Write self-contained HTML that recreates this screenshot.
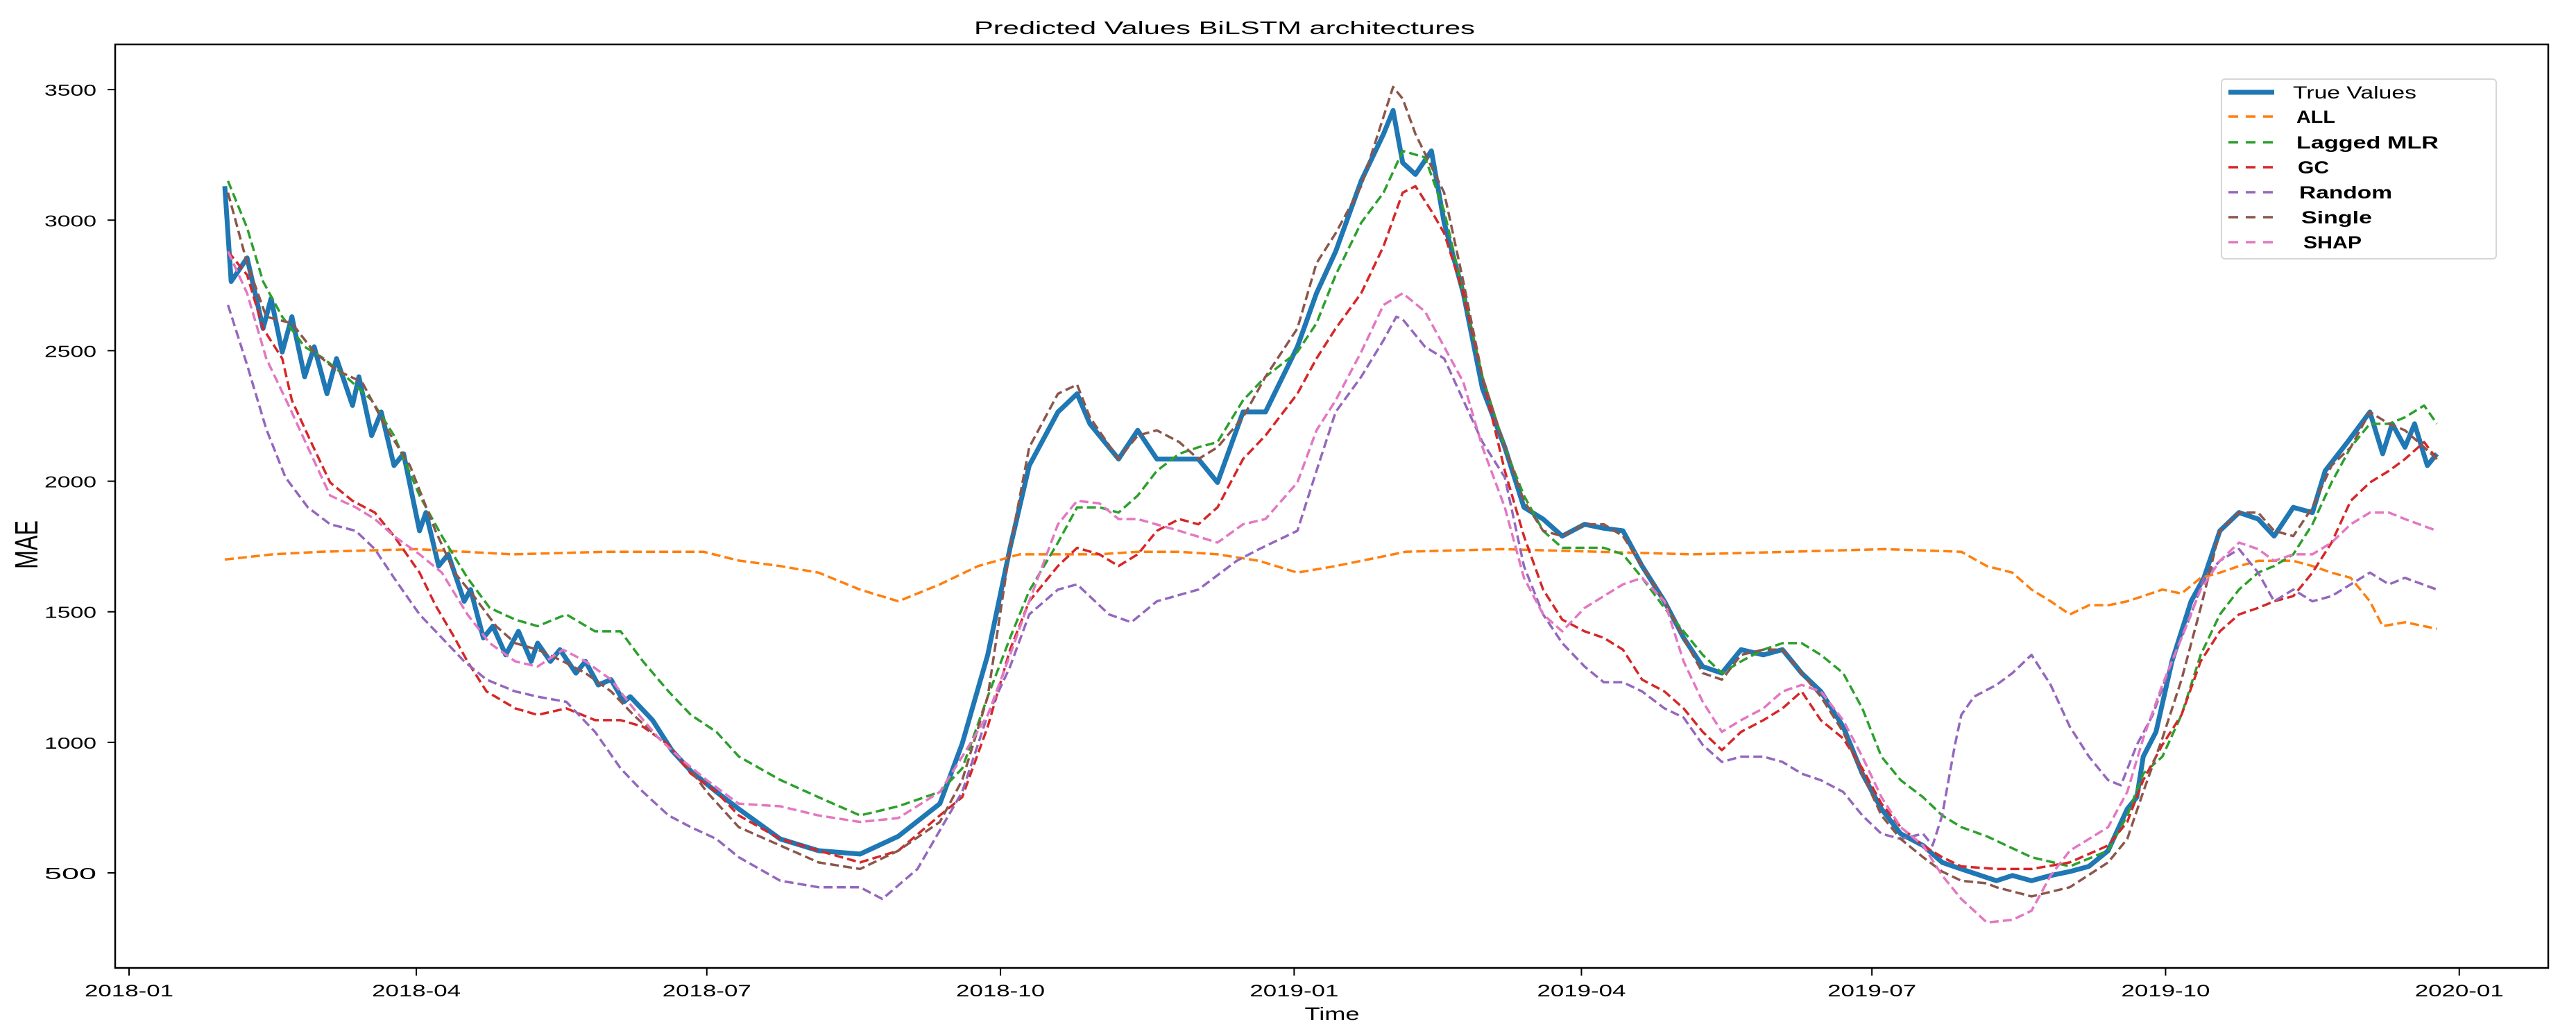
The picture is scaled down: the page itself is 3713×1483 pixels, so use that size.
<!DOCTYPE html>
<html><head><meta charset="utf-8"><style>
html,body{margin:0;padding:0;background:#fff;}
svg{display:block;font-family:"Liberation Sans",sans-serif;}
</style></head><body>
<svg id="chart" width="3713" height="1483" viewBox="0 0 3713 1483" xmlns="http://www.w3.org/2000/svg">
<rect width="3713" height="1483" fill="#fff"/>
<text x="1765" y="49" font-size="26" text-anchor="middle" textLength="722" lengthAdjust="spacingAndGlyphs" fill="#000">Predicted Values BiLSTM architectures</text>
<g id="plot"></g>
<g id="axes"></g>
<text transform="translate(54,785) rotate(-90)" font-size="46" text-anchor="middle" textLength="70" lengthAdjust="spacingAndGlyphs" fill="#000">MAE</text>
<text x="1920" y="1470" font-size="26" text-anchor="middle" textLength="79" lengthAdjust="spacingAndGlyphs" fill="#000">Time</text>
<g id="legend"></g>
</svg>
<script>
// days since 2018-01-01 and values
const trueDays=[30,32,37,42,44.5,48,51,55,58,62,65,70,72,76,79,83,86,91,93,97,100,105,107,111,114,118,122,126,128,132,135,140,143,147,151,155,157,164,170,176,184,191,204,216,229,241,254,261,269,276,282,291,297,301,310,316,322,329,335,341,349,356,366,372,378,386,393,396,399,403,408,412,418,424,431,437,443,449,456,462,468,474,481,487,493,499,505,512,518,524,530,537,543,549,555,562,568,574,585,590,596,602,608,614,620,626,629,631,635,640,646,650,655,661,667,672,678,684,688,695,702,706,709,713,716,720,723];
const trueVals=[3130,2765,2855,2585,2700,2495,2630,2400,2515,2335,2470,2290,2400,2175,2265,2060,2105,1810,1880,1675,1720,1540,1585,1400,1445,1335,1425,1310,1380,1310,1355,1265,1310,1220,1240,1155,1175,1085,970,890,810,745,630,585,572,640,765,995,1335,1745,2060,2265,2335,2220,2085,2195,2085,2085,2085,1995,2265,2265,2515,2720,2880,3150,3330,3420,3220,3175,3265,2990,2720,2355,2130,1900,1855,1790,1835,1820,1810,1675,1540,1400,1290,1265,1355,1335,1355,1265,1195,1060,880,745,650,605,540,515,470,490,470,490,505,525,585,745,790,945,1040,1310,1540,1630,1810,1880,1855,1790,1900,1880,2040,2150,2265,2105,2220,2130,2220,2060,2105];
const allDays=[30,45,60,90,120,150,180,191,204,216,229,241,254,266,279,291,304,316,329,341,354,366,378,386,400,430,460,490,520,550,574,582,590,596,602,608,614,620,626,631,637,643,649,655,661,667,678,684,690,696,702,706,713,723];
const allVals=[1700,1720,1730,1740,1720,1730,1730,1696,1675,1650,1585,1540,1605,1675,1720,1720,1720,1730,1730,1720,1695,1650,1675,1695,1730,1740,1730,1720,1730,1740,1730,1675,1650,1585,1540,1490,1525,1525,1540,1560,1585,1570,1630,1650,1675,1695,1695,1675,1650,1630,1540,1445,1460,1435];
const mlrDays=[31,37,42,48,55,61,68,76,83,91,98,106,113,121,128,137,146,154,161,169,176,184,191,204,216,229,241,254,261,269,276,282,291,297,304,310,316,322,329,335,341,349,356,366,372,378,386,393,399,406,412,418,424,431,437,443,449,456,462,468,474,481,487,493,499,505,512,518,524,530,537,543,549,555,562,568,574,582,596,608,620,626,631,637,643,649,655,661,667,672,678,684,690,696,702,708,713,719,723];
const mlrVals=[3150,2970,2765,2630,2515,2470,2400,2310,2175,1945,1790,1630,1515,1470,1445,1490,1425,1425,1310,1195,1105,1040,946,856,790,720,755,810,900,1175,1400,1580,1765,1900,1900,1880,1945,2040,2105,2130,2150,2310,2400,2495,2605,2790,2990,3105,3265,3240,3035,2720,2400,2130,1945,1810,1745,1745,1745,1720,1630,1515,1425,1335,1265,1310,1355,1380,1380,1335,1265,1130,945,855,790,720,675,640,560,525,585,720,880,945,1105,1335,1490,1585,1650,1675,1720,1835,1995,2130,2220,2220,2245,2290,2220];
const gcDays=[31,37,42,48,51,57,63,70,77,83,91,96,102,106,112,121,128,137,146,154,161,169,176,184,191,204,216,229,241,254,261,269,276,282,291,297,304,310,316,322,329,335,341,349,356,366,372,378,386,393,399,403,408,412,418,424,431,437,443,449,456,462,468,474,481,487,493,499,505,512,518,524,530,537,543,549,555,562,568,574,585,596,608,620,626,631,637,643,649,655,661,667,672,678,684,690,696,702,708,713,719,723];
const gcVals=[2880,2790,2585,2470,2310,2150,1995,1925,1880,1790,1650,1525,1400,1310,1195,1130,1105,1130,1085,1085,1060,990,880,810,720,630,585,540,585,720,790,1060,1355,1540,1675,1745,1720,1675,1720,1810,1855,1835,1900,2085,2175,2335,2470,2585,2720,2900,3105,3130,3035,2950,2720,2400,2040,1790,1585,1470,1425,1400,1355,1240,1195,1130,1040,970,1040,1085,1130,1195,1085,1015,900,765,675,605,560,525,515,515,540,605,695,855,990,1105,1310,1425,1490,1515,1540,1560,1650,1765,1925,1995,2040,2085,2150,2085];
const randDays=[31,37,43,49,56,63,71,77,83,91,98,105,112,121,128,137,146,154,161,169,176,184,191,204,216,229,236,247,261,269,276,282,291,297,307,314,322,335,347,354,366,372,378,386,393,397,399,406,412,418,424,431,437,443,449,456,462,468,474,481,487,493,499,505,512,518,524,530,537,543,549,555,562,565,568,572,574,578,585,590,596,602,608,614,620,624,629,634,640,646,650,655,661,667,672,678,684,690,696,702,708,713,723];
const randVals=[2675,2445,2200,2015,1900,1835,1810,1740,1630,1490,1400,1310,1240,1195,1175,1155,1040,900,810,720,675,630,560,470,445,445,400,515,810,1105,1290,1490,1585,1605,1490,1460,1540,1585,1695,1740,1810,2040,2265,2400,2540,2630,2620,2515,2470,2310,2150,2015,1675,1490,1380,1290,1230,1230,1195,1130,1095,990,925,945,945,925,880,855,810,720,650,630,650,605,720,990,1105,1175,1220,1265,1335,1220,1060,945,855,835,990,1105,1310,1490,1630,1695,1740,1650,1540,1585,1540,1560,1605,1650,1605,1630,1585];
const singleDays=[31,37,43,51,58,65,73,81,88,96,102,108,115,121,128,136,143,151,158,166,174,181,191,204,216,229,241,254,261,269,276,282,291,297,301,310,316,322,329,335,341,349,356,366,372,378,386,396,399,403,412,418,424,431,437,443,449,456,462,468,474,481,487,493,499,505,512,518,524,530,537,543,549,555,562,568,574,582,585,596,608,620,626,631,637,643,649,655,661,667,672,678,684,690,696,702,708,713,719,723];
const singleVals=[3105,2835,2630,2605,2495,2425,2380,2195,2060,1810,1650,1560,1445,1380,1355,1310,1265,1195,1105,1015,925,810,675,605,540,515,585,695,855,1175,1745,2130,2335,2370,2245,2085,2175,2195,2150,2085,2130,2245,2400,2585,2835,2950,3130,3510,3465,3330,3105,2765,2400,2130,1925,1810,1790,1835,1835,1790,1675,1540,1400,1265,1240,1335,1355,1355,1265,1175,1040,880,720,630,560,505,470,460,445,410,445,540,630,810,1015,1240,1515,1810,1880,1880,1810,1790,1900,2060,2130,2265,2220,2195,2130,2085];
const shapDays=[31,37,43,50,56,63,71,77,83,91,98,106,113,121,128,136,143,151,158,166,174,181,191,204,216,229,241,254,261,269,276,282,291,297,304,310,316,329,341,349,356,366,372,378,386,393,399,406,412,418,424,431,437,443,449,456,462,468,474,481,487,493,499,505,512,518,524,530,537,543,549,555,562,568,574,582,590,596,602,608,614,620,626,631,637,643,649,655,661,667,672,678,684,690,696,702,708,713,723];
const shapVals=[2880,2720,2470,2290,2130,1945,1900,1855,1790,1720,1650,1490,1380,1310,1290,1355,1310,1240,1130,1015,925,855,765,755,720,695,710,810,945,1105,1335,1540,1835,1925,1915,1855,1855,1810,1765,1835,1855,1995,2195,2310,2495,2675,2720,2650,2515,2380,2130,1900,1630,1490,1425,1515,1560,1605,1630,1540,1310,1155,1040,1085,1130,1195,1220,1195,1085,945,790,675,605,490,400,310,320,355,490,585,630,675,810,1015,1220,1400,1585,1695,1765,1740,1695,1720,1720,1765,1835,1880,1880,1855,1810];
const yTicks=[500,1000,1500,2000,2500,3000,3500];
const xTickLabels=["2018-01","2018-04","2018-07","2018-10","2019-01","2019-04","2019-07","2019-10","2020-01"];
const xTickDays=[0,90,181,273,365,455,546,638,730];
const seriesNames=["True Values","ALL","Lagged MLR","GC","Random","Single","SHAP"];

const L=166,R=3673,T=64,B=1395;
const xS=d=>186+d*4.601;
const yS=v=>1258-(v-500)*0.3763;
const NS="http://www.w3.org/2000/svg";
function mk(tag,attrs,parent){const e=document.createElementNS(NS,tag);for(const k in attrs)e.setAttribute(k,attrs[k]);parent.appendChild(e);return e;}
const plot=document.getElementById('plot'),axes=document.getElementById('axes'),leg=document.getElementById('legend');
const series=[
 {d:trueDays,v:trueVals,c:"#1f77b4",w:7,dash:null,n:"true-values-line"},
 {d:allDays,v:allVals,c:"#ff7f0e",w:3.5,dash:"13 6",n:"all-line"},
 {d:mlrDays,v:mlrVals,c:"#2ca02c",w:3.5,dash:"13 6",n:"lagged-mlr-line"},
 {d:gcDays,v:gcVals,c:"#d62728",w:3.5,dash:"13 6",n:"gc-line"},
 {d:randDays,v:randVals,c:"#9467bd",w:3.5,dash:"13 6",n:"random-line"},
 {d:singleDays,v:singleVals,c:"#8c564b",w:3.5,dash:"13 6",n:"single-line"},
 {d:shapDays,v:shapVals,c:"#e377c2",w:3.5,dash:"13 6",n:"shap-line"}
];
series.forEach(s=>{
 const pts=s.d.map((d,i)=>xS(d).toFixed(1)+","+yS(s.v[i]).toFixed(1)).join(" ");
 const a={points:pts,fill:"none",stroke:s.c,"stroke-width":s.w,"stroke-linejoin":"round"};
 if(s.dash)a["stroke-dasharray"]=s.dash;
 const p=mk('polyline',a,plot);
 
 
});
const frame=mk('rect',{x:L,y:T,width:R-L,height:B-T,fill:"none",stroke:"#000","stroke-width":2.5},axes);


yTicks.forEach(v=>{
 const y=yS(v);
 const t=mk('line',{x1:L-11,x2:L,y1:y,y2:y,stroke:"#000","stroke-width":2},axes);
 
 
 const lb=mk('text',{x:139,y:y+9,"font-size":23,"text-anchor":"end",textLength:75,lengthAdjust:"spacingAndGlyphs",fill:"#000"},axes);
 lb.textContent=String(v);
 
 
});
xTickLabels.forEach((s,i)=>{
 const x=xS(xTickDays[i]);
 const t=mk('line',{x1:x,x2:x,y1:B,y2:B+11,stroke:"#000","stroke-width":2},axes);
 
 
 const lb=mk('text',{x:x,y:1436,"font-size":24,"text-anchor":"middle",textLength:128,lengthAdjust:"spacingAndGlyphs",fill:"#000"},axes);
 lb.textContent=s;
 
 
});
const box=mk('rect',{x:3202,y:114,width:396,height:259,rx:5,fill:"#fff",stroke:"#d6d6d6","stroke-width":2},leg);


const rowY=[133,168,205,241,277,313,349];
const txX=[3305,3310,3310,3312,3314,3317,3320];
const txW=[178,56,205,45,134,102,84];
series.forEach((s,i)=>{
 const a={x1:3212,x2:3278,y1:rowY[i],y2:rowY[i],stroke:s.c,"stroke-width":s.w};
 if(s.dash)a["stroke-dasharray"]="14 11";
 const h=mk('line',a,leg);
 
 
 const t=mk('text',{x:txX[i],y:rowY[i]+9,"font-size":25,textLength:txW[i],lengthAdjust:"spacingAndGlyphs",fill:"#000","font-weight":i===0?"normal":"bold"},leg);
 t.textContent=seriesNames[i];
 
 
});
</script>
</body></html>
